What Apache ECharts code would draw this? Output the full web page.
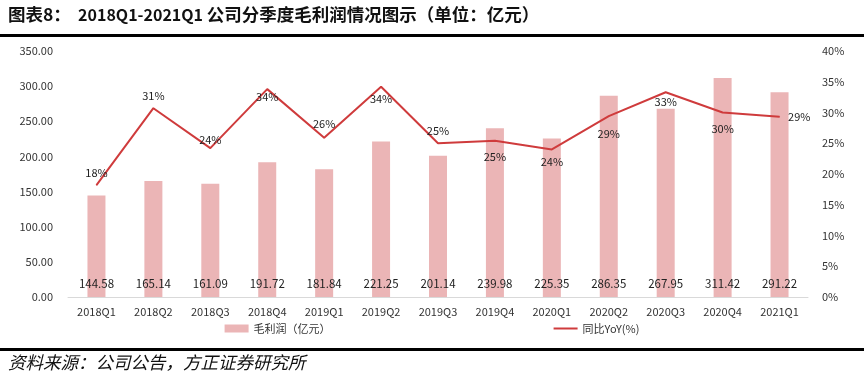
<!DOCTYPE html>
<html><head><meta charset="utf-8">
<script src="https://cdn.jsdelivr.net/npm/echarts@6/dist/echarts.min.js"></script>
<style>html,body{margin:0;padding:0;background:#fff}#c{width:864px;height:383px}</style>
</head><body><div id="c"></div>
<script>
const categories = ['2018Q1','2018Q2','2018Q3','2018Q4','2019Q1','2019Q2','2019Q3','2019Q4','2020Q1','2020Q2','2020Q3','2020Q4','2021Q1'];
const grossProfit = [144.58,165.14,161.09,191.72,181.84,221.25,201.14,239.98,225.35,286.35,267.95,311.42,291.22];
const yoy = [18.2,30.7,24.2,33.8,25.9,34.2,25.0,25.4,24.0,29.4,33.3,30.0,29.3];
const yoyLabelPos = ['top','top','top','bottom','top','bottom','top','bottom','bottom','bottom','bottom','bottom','right'];
const yoyLabelDist = [6,6,2,2,8,6,6,10,6,12,4,10,8];
const leftTicks = [0,50,100,150,200,250,300,350];
const rightTicks = [0,5,10,15,20,25,30,35,40];

const font = '"Noto Sans CJK SC", "DejaVu Sans", sans-serif';
const chart = echarts.init(document.getElementById('c'));
chart.setOption({
  animation:false,
  backgroundColor:'#fff',
  textStyle:{fontFamily:font},
  graphic:[
    {type:'text',left:8,top:6,style:{
      text:'{c|图表8：}{l|  2018Q1-2021Q1 }{c|公司分季度毛利润情况图示（单位：亿元）}',
      rich:{c:{fontSize:17.5,fontFamily:font,fontWeight:'bold',fill:'#111',color:'#111'},
            l:{fontSize:16,fontFamily:font,fontWeight:'bold',fill:'#111',color:'#111'}},
      fill:'#111'}},
    {type:'rect',shape:{x:0,y:34,width:864,height:3},style:{fill:'#000'}},
    {type:'rect',shape:{x:0,y:348,width:864,height:3},style:{fill:'#000'}},
    {type:'text',left:8,top:354,style:{text:'资料来源：公司公告，方正证券研究所',font:'italic 17.5px '+font,fill:'#111'}}
  ],
  legend:{
    bottom:44, left:'center', itemGap:223, itemWidth:24, itemHeight:8, itemTextGap:5,
    textStyle:{fontSize:11,color:'#333',fontFamily:font},
    data:[{name:'毛利润（亿元）',icon:'rect'},{name:'同比YoY(%)',icon:'path://M0,4 L24,4 L24,6 L0,6 Z'}]
  },
  grid:{left:68,right:56,top:51,bottom:86},
  xAxis:{type:'category',data:categories,
    axisLine:{lineStyle:{color:'#d9d9d9'}},axisTick:{show:false},
    axisLabel:{color:'#333',fontSize:11,margin:9}},
  yAxis:[
    {type:'value',min:0,max:350,interval:50,splitLine:{show:false},
      axisLabel:{color:'#333',fontSize:11,margin:15,formatter:v=>v.toFixed(2)}},
    {type:'value',min:0,max:40,interval:5,splitLine:{show:false},
      axisLabel:{color:'#333',fontSize:11,margin:14,formatter:v=>v+'%'}}
  ],
  series:[
    {name:'毛利润（亿元）',type:'bar',data:grossProfit,barWidth:18,
      itemStyle:{color:'#EBB5B6'},
      label:{show:true,position:'insideBottom',distance:8,color:'#222',fontSize:11.5,formatter:p=>p.value.toFixed(2)}},
    {name:'同比YoY(%)',type:'line',yAxisIndex:1,
      data:yoy.map((v,i)=>({value:v,label:{position:yoyLabelPos[i],distance:yoyLabelDist[i]}})),
      symbol:'circle',symbolSize:1,showSymbol:true,
      lineStyle:{color:'#CF3B3C',width:2},itemStyle:{color:'#CF3B3C'},
      label:{show:true,color:'#222',fontSize:11,formatter:p=>Math.round(p.value)+'%'}}
  ]
});
</script></body></html>
